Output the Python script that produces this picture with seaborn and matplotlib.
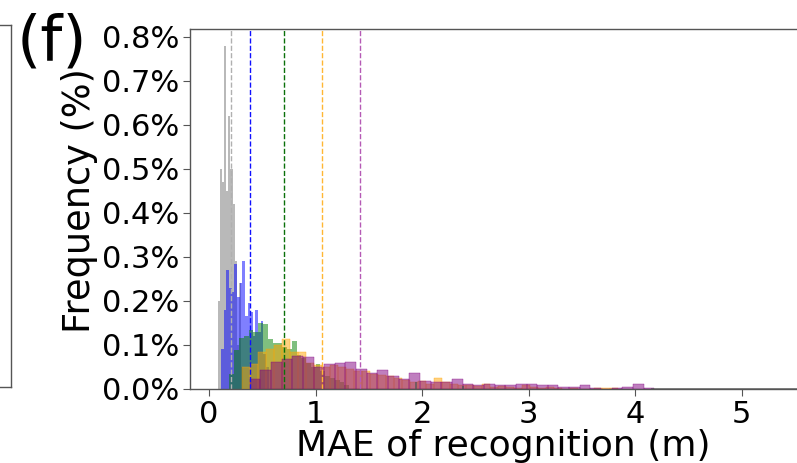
import numpy as np
import pandas as pd
import matplotlib
matplotlib.use("Agg")
import matplotlib.pyplot as plt
import seaborn as sns
from matplotlib.ticker import FuncFormatter

# ---------------- data (bar heights in %) ----------------
gray_start, gray_width = 0.08, 0.02
gray_heights = [0.20, 0.50, 0.47, 0.78, 0.45, 0.62, 0.50, 0.42, 0.29, 0.10, 0.24, 0.05]

blue_start, blue_width = 0.11, 0.025
blue_heights = [0.09, 0.18, 0.27, 0.23, 0.22, 0.285, 0.21, 0.24, 0.29, 0.165,
                0.195, 0.175, 0.12, 0.18, 0.13, 0.155, 0.08, 0.05]

green_start, green_width = 0.19, 0.045
green_heights = [0.035, 0.088, 0.115, 0.12, 0.134, 0.13, 0.15, 0.148, 0.113, 0.104,
                 0.105, 0.096, 0.09, 0.11, 0.077, 0.07, 0.06, 0.05, 0.057, 0.04,
                 0.03, 0.025, 0.02, 0.015, 0.01]

orange_start, orange_width = 0.31, 0.075
orange_heights = [0.05, 0.057, 0.084, 0.09, 0.10, 0.113, 0.085, 0.085, 0.06, 0.055,
                  0.05, 0.055, 0.05, 0.045, 0.04, 0.041, 0.035, 0.032, 0.03, 0.025,
                  0.02, 0.015, 0.018, 0.012, 0.025, 0.015, 0.012, 0.008, 0.008, 0.006,
                  0.011, 0.005, 0.006, 0.004, 0.003, 0.009, 0.004, 0.002, 0.004, 0.003,
                  0.0, 0.002, 0.0, 0.001, 0.003, 0.003, 0.002]

purple_start, purple_width = 0.38, 0.10
purple_heights = [0.022, 0.043, 0.062, 0.068, 0.075, 0.073, 0.05, 0.057, 0.058, 0.061,
                  0.045, 0.037, 0.043, 0.03, 0.022, 0.037, 0.018, 0.015, 0.016, 0.022,
                  0.012, 0.010, 0.012, 0.009, 0.009, 0.012, 0.012, 0.009, 0.010, 0.005,
                  0.005, 0.008, 0.003, 0.0, 0.003, 0.004, 0.011, 0.003]

tail_x = [1.94, 2.38, 4.25, 4.45, 4.65, 4.85, 5.05, 5.25, 5.45]
tail_heights = [0.017, 0.007, 0.003, 0.003, 0.002, 0.003, 0.003, 0.002, 0.003]
tail_widths = [0.02, 0.02, 0.2, 0.2, 0.2, 0.2, 0.2, 0.2, 0.2]

mean_values = [0.207, 0.385, 0.70, 1.06, 1.42]

series_names = ["gray", "blue", "green", "orange", "purple"]
bar_colors = ["#808080", "#0000ff", "#008000", "#ffa500", "#800080"]
line_colors = ["#b0b0b0", "#1010ff", "#0a700a", "#ffb733", "#b55ab5"]

x_label = "MAE of recognition (m)"
y_label = "Frequency (%)"
panel_label = "(f)"
x_ticks = [0, 1, 2, 3, 4, 5]
y_ticks = [0.0, 0.1, 0.2, 0.3, 0.4, 0.5, 0.6, 0.7, 0.8]

# ---------------- figure ----------------
W, H = 797, 463
fig = plt.figure(figsize=(W / 100, H / 100), dpi=100)

# partial frame of neighbouring panel
ax_prev = fig.add_axes([-0.5, 76 / H, 0.5 + 11 / W, (387 - 25) / H])
ax_prev.set_xticks([])
ax_prev.set_yticks([])
for s in ax_prev.spines.values():
    s.set_color("#555555")
    s.set_linewidth(1.0)

xmin, xmax = -0.18, 5.70
px_per_unit = 106.5
ax_left = 190
ax_w = (xmax - xmin) * px_per_unit
ax = fig.add_axes([ax_left / W, (H - 389) / H, ax_w / W, (389 - 28.5) / H])


def draw_hist(edges, heights, color, alpha, lw):
    edges = [float(e) for e in edges]
    centers = [(a + b) / 2 for a, b in zip(edges[:-1], edges[1:])]
    df = pd.DataFrame({"x": centers, "w": [float(h) for h in heights]})
    sns.histplot(data=df, x="x", weights="w", bins=edges, color=color, alpha=alpha,
                 linewidth=lw, edgecolor=color, ax=ax, stat="count")


def draw_series(start, width, heights, color, alpha, lw):
    edges = start + width * np.arange(len(heights) + 1)
    draw_hist(edges, heights, color, alpha, lw)


draw_series(gray_start, gray_width, gray_heights, bar_colors[0], 0.55, 0)
draw_series(blue_start, blue_width, blue_heights, bar_colors[1], 0.5, 0)
draw_series(green_start, green_width, green_heights, bar_colors[2], 0.5, 0)
draw_series(orange_start, orange_width, orange_heights, bar_colors[3], 0.5, 0.25)
draw_series(purple_start, purple_width, purple_heights, bar_colors[4], 0.5, 0.25)

# sparse tail
for tx, th, tw in zip(tail_x, tail_heights, tail_widths):
    draw_hist([tx - tw / 2, tx + tw / 2], [th], "#555555", 0.7, 0)

for m, c in zip(mean_values, line_colors):
    ax.axvline(m, color=c, linestyle="--", linewidth=1.0)

ax.set_xlim(xmin, xmax)
ax.set_ylim(0, 0.819)
ax.set_xticks(x_ticks)
ax.set_yticks(y_ticks)
ax.yaxis.set_major_formatter(FuncFormatter(lambda v, p: f"{v:.1f}%"))
ax.tick_params(labelsize=22, length=5, color="#555555", pad=3)
ax.set_xlabel(x_label, fontsize=26, labelpad=0)
ax.set_ylabel(y_label, fontsize=26.5, labelpad=2)
ax.yaxis.set_label_coords(-0.147, 0.522)
for s in ax.spines.values():
    s.set_color("#555555")
    s.set_linewidth(1.0)

fig.text(17 / W, 1 - 13 / H, panel_label, fontsize=45, ha="left", va="top")

fig.savefig("out.png", dpi=100)
